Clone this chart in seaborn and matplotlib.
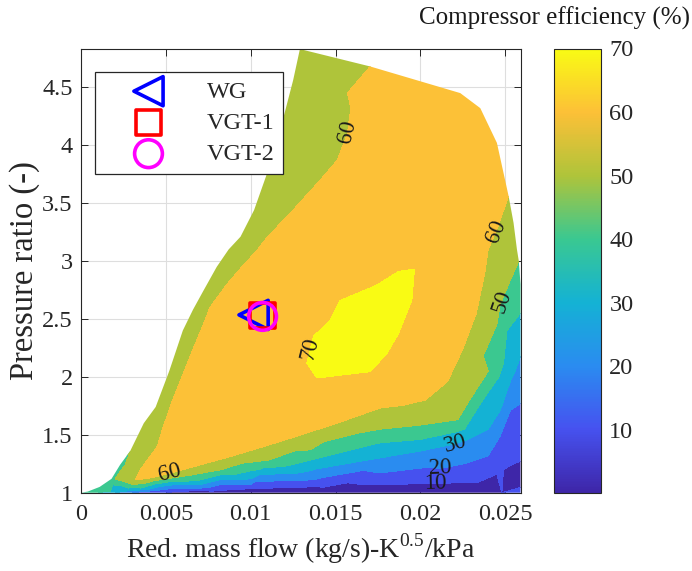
import numpy as np
import matplotlib
matplotlib.use("Agg")
import matplotlib.pyplot as plt
import matplotlib.tri as mtri
from matplotlib.colors import LinearSegmentedColormap, Normalize
from matplotlib.patches import Polygon
import matplotlib.cm as cm
import seaborn as sns

# ---------------------------------------------------------------------------
# Compressor map outline: surge line bottom-up, upper edge, choke edge down,
# then back along PR = 1.  Efficiency (%) given at each outline vertex.
edge_x = [0.0, 0.0004, 0.0011, 0.0018, 0.0023, 0.0029, 0.0032, 0.0037, 0.0044,
          0.0052, 0.0060, 0.0066, 0.0072, 0.0080, 0.0087, 0.0094, 0.0102, 0.0109,
          0.0117, 0.0125, 0.0129,
          0.01704, 0.02235, 0.02353, 0.02451, 0.0252, 0.02549, 0.02569, 0.0258,
          0.0259, 0.0259, 0.0259, 0.0259, 0.0259, 0.0259, 0.0259, 0.0259, 0.0259,
          0.0259, 0.0259,
          0.0248, 0.0235, 0.015, 0.008, 0.005, 0.003, 0.002, 0.001]
edge_y = [1.0, 1.01, 1.05, 1.12, 1.24, 1.36, 1.45, 1.60, 1.74,
          2.05, 2.40, 2.58, 2.74, 2.95, 3.10, 3.21, 3.44, 3.73,
          4.11, 4.56, 4.83,
          4.68, 4.45, 4.32, 4.02, 3.56, 3.33, 3.10, 3.00,
          2.80, 2.55, 2.35, 2.18, 2.00, 1.77, 1.50, 1.27, 1.10,
          1.045, 1.0,
          1.0, 1.0, 1.0, 1.0, 1.0, 1.0, 1.0, 1.0]
edge_eff = [45, 45, 45, 46, 48, 50, 53, 55, 55,
            55, 55, 55, 55, 55, 55, 55, 55, 55,
            55, 55, 55,
            60, 63, 63, 63, 60, 56, 52, 50,
            45, 40, 35, 30, 25, 20, 15, 10, 6,
            10, 20,
            10, 0.2, 2, 5, 10, 20, 30, 40]

# Iso-efficiency lines (mass flow, pressure ratio) read along each level
iso70_x = [0.01331, 0.0139, 0.01704, 0.01802, 0.0187, 0.0195, 0.01965, 0.0187,
           0.0174, 0.01527, 0.01468, 0.0137]
iso70_y = [2.12, 1.99, 2.045, 2.20, 2.37, 2.66, 2.93, 2.91,
           2.79, 2.66, 2.49, 2.35]

iso60_x = [0.0032, 0.0035, 0.0045, 0.0048, 0.0054, 0.0060, 0.0066, 0.0072, 0.0076,
           0.0086, 0.0096, 0.0103, 0.0110, 0.0125, 0.0141, 0.0151, 0.0157, 0.0159,
           0.0157,
           0.0245, 0.0240, 0.0238, 0.0233, 0.0225, 0.0216, 0.0203, 0.0190, 0.0176,
           0.0151, 0.0117, 0.0090, 0.0058, 0.0042]
iso60_y = [1.11, 1.20, 1.40, 1.55, 1.80, 2.02, 2.24, 2.45, 2.60,
           2.80, 2.97, 3.08, 3.21, 3.44, 3.70, 3.87, 4.10, 4.32,
           4.45,
           3.27, 3.10, 2.90, 2.55, 2.24, 1.96, 1.80, 1.755, 1.73,
           1.60, 1.44, 1.32, 1.19, 1.13]

iso50_x = [0.0252, 0.0247, 0.0245, 0.0240, 0.0229, 0.0222, 0.0198, 0.0177, 0.0135,
           0.0110, 0.0083, 0.0055, 0.0031, 0.0015, 0.0008, 0.0013, 0.0020, 0.0026]
iso50_y = [2.80, 2.62, 2.45, 2.05, 1.80, 1.63, 1.58, 1.55, 1.37,
           1.28, 1.20, 1.13, 1.07, 1.03, 1.01, 1.05, 1.12, 1.24]

iso40_x = [0.0251, 0.0249, 0.0241, 0.0235, 0.0226, 0.0200, 0.0176, 0.0135, 0.0100,
           0.0070, 0.0035, 0.0015]
iso40_y = [2.40, 2.12, 1.89, 1.76, 1.55, 1.46, 1.43, 1.28, 1.19,
           1.11, 1.04, 1.01]

iso30_x = [0.0253, 0.0247, 0.0240, 0.0228, 0.0220, 0.0200, 0.0176, 0.0135, 0.0100,
           0.0070, 0.0040, 0.0025]
iso30_y = [1.96, 1.71, 1.55, 1.46, 1.42, 1.36, 1.30, 1.19, 1.12,
           1.07, 1.03, 1.01]

iso20_x = [0.0253, 0.0247, 0.0240, 0.0226, 0.0212, 0.0176, 0.0135, 0.0100, 0.0070,
           0.0045, 0.0035]
iso20_y = [1.71, 1.49, 1.32, 1.25, 1.21, 1.17, 1.11, 1.07, 1.04,
           1.02, 1.008]

iso10_x = [0.0255, 0.0249, 0.0245, 0.0234, 0.0209, 0.0176, 0.0135, 0.0100, 0.0070,
           0.0055]
iso10_y = [1.25, 1.20, 1.16, 1.09, 1.08, 1.07, 1.05, 1.035, 1.02,
           1.008]

peak_x = [0.0172]
peak_y = [2.45]
peak_eff = [70.1]

# Operating points
op_names = ["WG", "VGT-1", "VGT-2"]
op_flow = [0.01017, 0.01067, 0.0107]
op_pr = [2.535, 2.526, 2.522]

# Axis ticks
x_ticks = [0, 0.005, 0.01, 0.015, 0.02, 0.025]
x_tick_labels = ["0", "0.005", "0.01", "0.015", "0.02", "0.025"]
y_ticks = [1, 1.5, 2, 2.5, 3, 3.5, 4, 4.5]
y_tick_labels = ["1", "1.5", "2", "2.5", "3", "3.5", "4", "4.5"]
cbar_ticks = [10, 20, 30, 40, 50, 60, 70]
band_lower = [0, 10, 20, 30, 40, 50, 60, 70]

# ---------------------------------------------------------------------------
sns.set_theme(style="ticks")
plt.rcParams["font.family"] = ["Liberation Serif", "DejaVu Serif"]
plt.rcParams["mathtext.fontset"] = "custom"
plt.rcParams["mathtext.rm"] = "Liberation Serif"
plt.rcParams["axes.unicode_minus"] = False

ink = "#262626"

parula = LinearSegmentedColormap.from_list(
    "parula_like",
    [(0.0, "#3e26a8"), (1 / 7, "#4652f0"), (2 / 7, "#2a8cf0"), (3 / 7, "#14b2d4"),
     (4 / 7, "#3ac891"), (5 / 7, "#afc43a"), (6 / 7, "#fcc037"), (1.0, "#f9fb14")])

W, H = 692, 571
fig = plt.figure(figsize=(W / 100, H / 100), dpi=100)
ax = fig.add_axes([81 / W, (H - 492.7) / H, 439.5 / W, 444.2 / H])

# Efficiency field: all sample points of the map
px = np.concatenate([edge_x, iso70_x, iso60_x, iso50_x, iso40_x, iso30_x,
                     iso20_x, iso10_x, peak_x])
py = np.concatenate([edge_y, iso70_y, iso60_y, iso50_y, iso40_y, iso30_y,
                     iso20_y, iso10_y, peak_y])
pz = np.concatenate([edge_eff,
                     np.full(len(iso70_x), 70.0), np.full(len(iso60_x), 60.0),
                     np.full(len(iso50_x), 50.0), np.full(len(iso40_x), 40.0),
                     np.full(len(iso30_x), 30.0), np.full(len(iso20_x), 20.0),
                     np.full(len(iso10_x), 10.0), peak_eff])

x_max, y_min, y_max = 0.0259, 1.0, 4.835
# triangulate in axis-normalised space so both directions weigh alike
norm_tri = mtri.Triangulation(px / x_max, (py - y_min) / (y_max - y_min))
tri = mtri.Triangulation(px, py, norm_tri.triangles)

eps = 1e-6
levels = [b - eps for b in band_lower] + [75]
band_colors = [parula(b / 70) for b in band_lower]
cf = ax.tricontourf(tri, pz, levels=levels, colors=band_colors, zorder=1)
outline = Polygon(np.column_stack([edge_x, edge_y]), closed=True,
                  transform=ax.transData, facecolor="none", edgecolor="none")
cf.set_clip_path(outline)

# contour labels
lines = ax.tricontour(tri, pz, levels=[10, 20, 30, 50, 60, 70], linewidths=0,
                      colors="none", zorder=2)
label_pos = [(0.0052, 1.168), (0.01567, 4.117), (0.02441, 3.254), (0.0247, 2.66),
             (0.0134, 2.247), (0.02205, 1.427), (0.02117, 1.219), (0.02087, 1.081)]
texts = ax.clabel(lines, manual=label_pos, inline=False, fontsize=16.5,
                  colors="k", fmt=lambda v: f"{int(round(v))}")

# operating points
marker_styles = {"WG": ("<", "#0000ff", 21), "VGT-1": ("s", "#ff0000", 18),
                 "VGT-2": ("o", "#ff00ff", 20)}
for name, fx, fy in zip(op_names, op_flow, op_pr):
    mk, col, ms = marker_styles[name]
    sns.scatterplot(x=[fx], y=[fy], marker=mk, s=ms ** 2, facecolor="none",
                    edgecolor=col, linewidth=2.6, ax=ax, label=name, zorder=5)

ax.set_xlim(0, x_max)
ax.set_ylim(y_min, y_max)
ax.set_xticks(x_ticks)
ax.set_xticklabels(x_tick_labels)
ax.set_yticks(y_ticks)
ax.set_yticklabels(y_tick_labels)
ax.set_axisbelow(True)
ax.grid(True, color="#dedede", linewidth=0.8)
ax.tick_params(direction="in", top=True, right=True, length=5, width=0.7,
               colors=ink, labelsize=17.5, pad=6)
ax.tick_params(axis="x", pad=8)
for s in ax.spines.values():
    s.set_color(ink)
    s.set_linewidth(0.8)
ax.set_xlabel("Red. mass flow (kg/s)-K$^{\\mathregular{0.5}}$/kPa", fontsize=20,
              color=ink, labelpad=5)
ax.set_ylabel("Pressure ratio (-)", fontsize=23.5, color=ink, labelpad=1.5)

leg = ax.legend(loc="upper left", bbox_to_anchor=(0.0319, 0.947), borderaxespad=0,
                fontsize=17.5, frameon=True, fancybox=False, framealpha=1,
                edgecolor=ink, borderpad=0.35, handlelength=3.7, handletextpad=0.55,
                labelspacing=0.38)
leg.get_frame().set_linewidth(0.9)

# colour bar
cax = fig.add_axes([554 / W, (H - 492.7) / H, 47 / W, 444.2 / H])
sm = cm.ScalarMappable(norm=Normalize(0.15, 70.0), cmap=parula)
cb = fig.colorbar(sm, cax=cax, ticks=cbar_ticks)
cb.ax.set_yticklabels([str(t) for t in cbar_ticks])
cb.ax.tick_params(direction="in", length=5, width=0.7, colors=ink, labelsize=17.5,
                  pad=6)
cb.outline.set_edgecolor(ink)
cb.outline.set_linewidth(0.8)
fig.text(1 - 2 / W, 1 - 18 / H, "Compressor efficiency (%)", ha="right", va="center",
         fontsize=18, color="k")

fig.savefig("out.png", dpi=100)
